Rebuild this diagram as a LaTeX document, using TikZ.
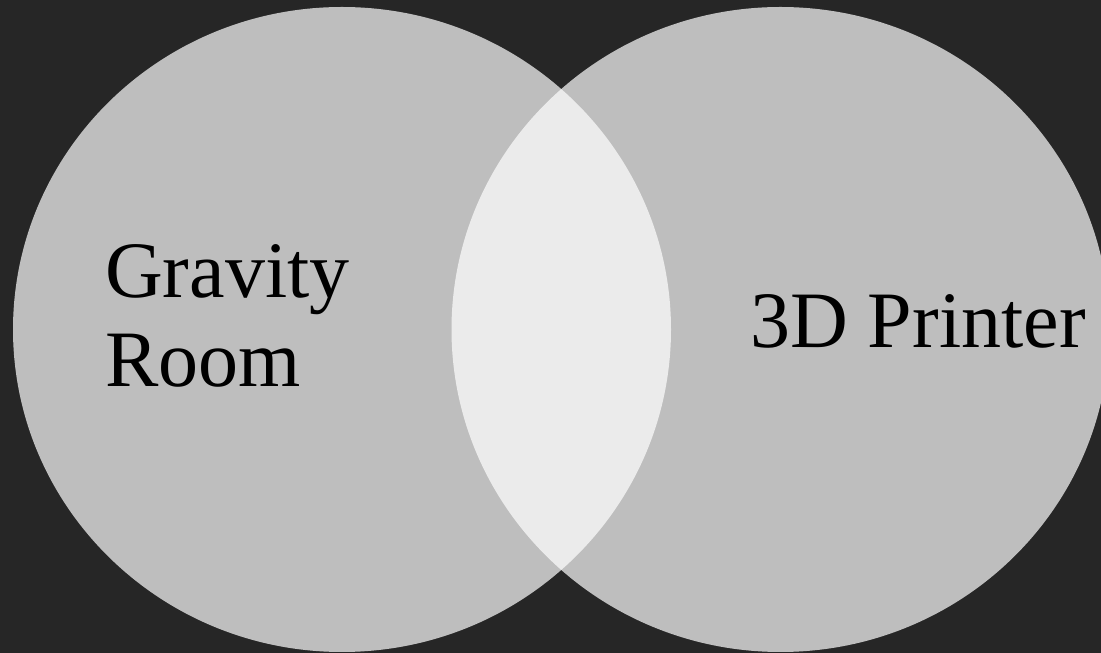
\documentclass[tikz,border=0pt]{standalone}
\usepackage{fontspec}
\setmainfont{Liberation Serif}
\definecolor{bgdark}{HTML}{262626}
\begin{document}
\begin{tikzpicture}[x=1pt,y=1pt,
    every node/.style={font=\fontsize{80}{89}\selectfont, inner sep=0pt, text=black},
    setfill/.style={fill=white, fill opacity=0.7}]
  \useasboundingbox (0,0) rectangle (1101,653);
  \fill[bgdark] (0,0) rectangle (1101,653);
  \coordinate (L) at (342,323.5);
  \coordinate (R) at (780.5,323.5);
  \fill[setfill] (L) ellipse [x radius=329, y radius=322.5];
  \fill[setfill] (R) ellipse [x radius=329, y radius=322.5];
  \node[anchor=base west] (gravity) at (105,355) {Gravity};
  \node[anchor=base west] (room) at ([yshift=-89pt]gravity.base west) {Room};
  \node[anchor=base west] (printer) at (750,305) {3D Printer};
\end{tikzpicture}
\end{document}
